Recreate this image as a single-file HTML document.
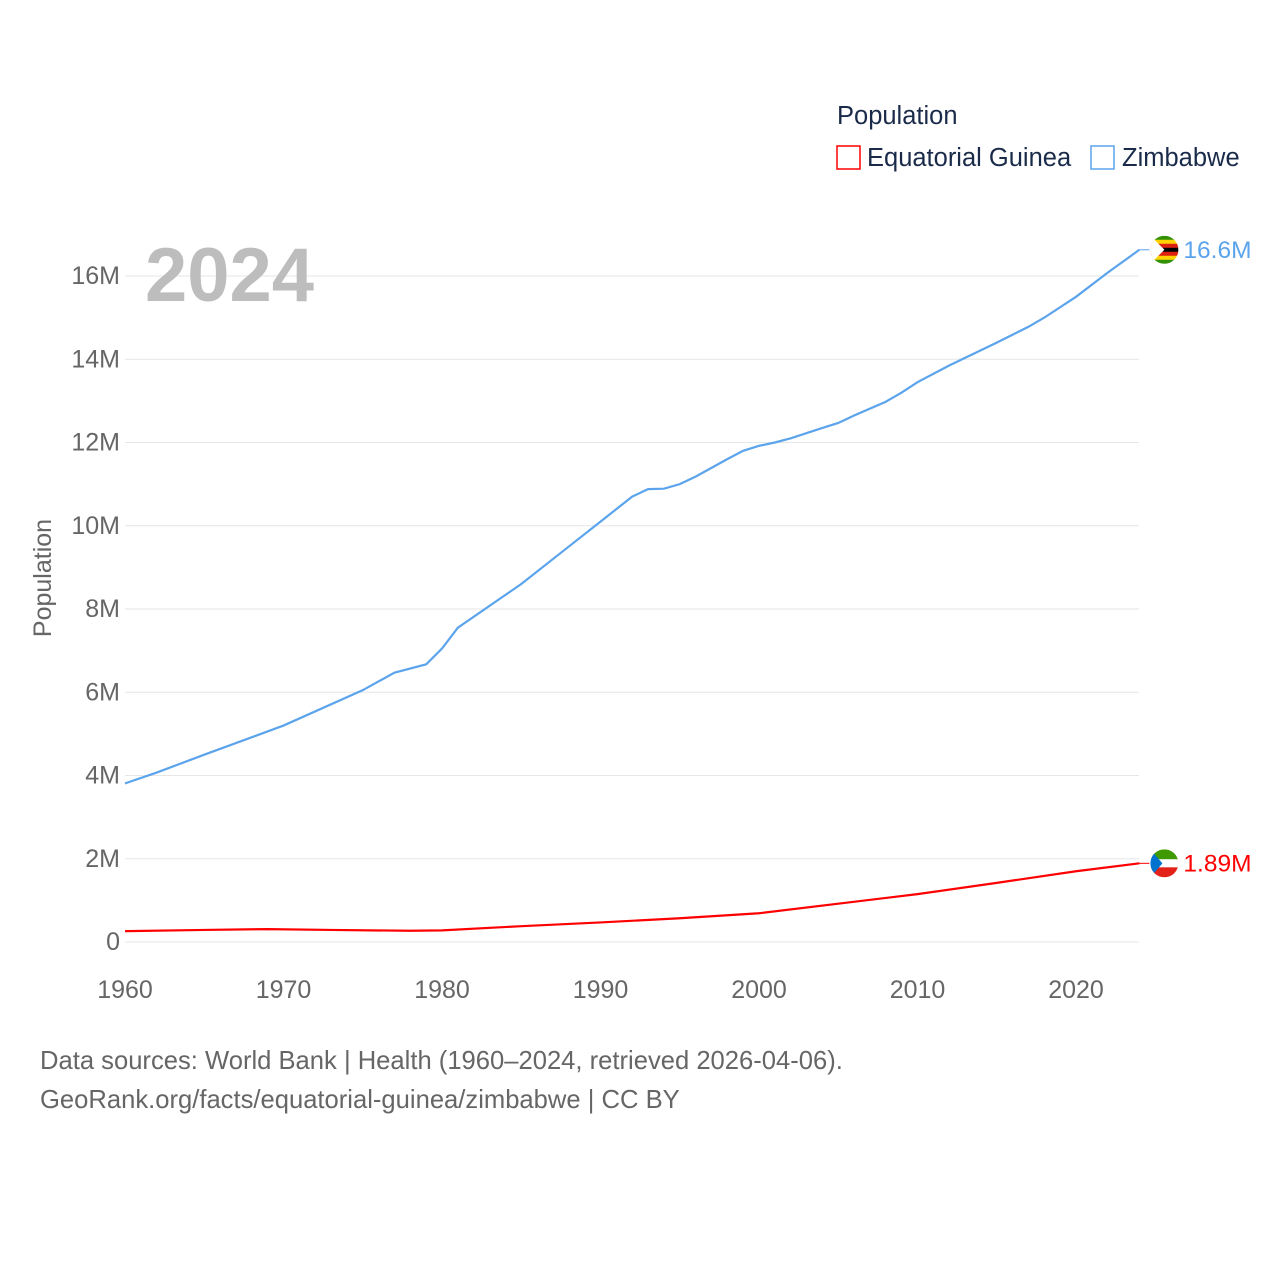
<!DOCTYPE html>
<html><head><meta charset="utf-8"><style>
body{margin:0;background:#fff;font-family:"Liberation Sans",sans-serif}
svg text{font-family:"Liberation Sans",sans-serif}
</style></head><body>
<svg width="1280" height="1280" viewBox="0 0 1280 1280">
<g id="grid"></g>
<g id="yticks"></g>
<g id="xticks"></g>
<text x="145" y="301" font-size="76" font-weight="bold" fill="#bdbdbd">2024</text>
<text transform="translate(51,578) rotate(-90)" text-anchor="middle" font-size="25" fill="#666">Population</text>
<g id="series"></g>
<g>
<text x="837" y="124" font-size="25.5" fill="#1a2b4a">Population</text>
<g><rect x="837" y="146" width="23" height="23" fill="none" stroke="#ff0000" stroke-width="1.5"/><text x="867" y="166" font-size="25.5" fill="#1a2b4a">Equatorial Guinea</text></g>
<g><rect x="1091" y="146" width="23" height="23" fill="none" stroke="#5ba4ec" stroke-width="1.5"/><text x="1122" y="166" font-size="25.5" fill="#1a2b4a">Zimbabwe</text></g>
</g>
<text x="40" y="1069" font-size="25.6" fill="#666">Data sources: World Bank | Health (1960–2024, retrieved 2026-04-06).</text>
<text x="40" y="1108" font-size="25.6" fill="#666">GeoRank.org/facts/equatorial-guinea/zimbabwe | CC BY</text>
</svg>
<script>
const yTicks=[0,2,4,6,8,10,12,14,16];
const xTicks=[1960,1970,1980,1990,2000,2010,2020];
const zwYears=[1960,1962,1965,1970,1975,1977,1979,1980,1981,1985,1988,1990,1992,1993,1994,1995,1996,1998,1999,2000,2001,2002,2004,2005,2006,2008,2009,2010,2012,2015,2017,2018,2020,2022,2024];
const zwValues=[3.81,4.07,4.5,5.2,6.05,6.47,6.67,7.05,7.55,8.6,9.5,10.1,10.7,10.88,10.89,11.0,11.18,11.6,11.8,11.92,12.0,12.1,12.35,12.47,12.65,12.98,13.2,13.45,13.85,14.4,14.78,15.0,15.5,16.08,16.63];
const gqYears=[1960,1965,1969,1973,1978,1980,1985,1990,1995,2000,2005,2010,2015,2020,2024];
const gqValues=[0.26,0.29,0.31,0.29,0.27,0.28,0.38,0.47,0.57,0.69,0.92,1.15,1.42,1.70,1.89];
const X=y=>125+(y-1960)*(1076-125)/60;
const Y=v=>942-v*(942-276)/16;
const NS="http://www.w3.org/2000/svg";
function mk(t,a,p){const e=document.createElementNS(NS,t);for(const k in a)e.setAttribute(k,a[k]);p.appendChild(e);return e;}
const grid=document.getElementById('grid'),yt=document.getElementById('yticks'),xt=document.getElementById('xticks'),sr=document.getElementById('series');
yTicks.forEach(v=>{
 const l=mk('line',{x1:125,x2:1139,y1:Y(v),y2:Y(v),stroke:'#e6e6e6','stroke-width':1},grid);
 
 
 const t=mk('text',{x:120,y:Y(v)+8,'text-anchor':'end','font-size':25,fill:'#666'},yt);
 t.textContent=v===0?'0':v+'M';
 
 
});
xTicks.forEach(v=>{
 const t=mk('text',{x:X(v),y:998,'text-anchor':'middle','font-size':25,fill:'#666'},xt);
 t.textContent=v;
 
 
});
function line(ys,vs,c,name){
 const p=mk('path',{d:ys.map((y,i)=>(i?'L':'M')+X(y)+','+Y(vs[i])).join(''),fill:'none',stroke:c,'stroke-width':2.2},sr);
 
 
}
line(zwYears,zwValues,'#5ba4ec','zimbabwe-line');
line(gqYears,gqValues,'#ff0000','equatorial-guinea-line');
function endLabel(ys,vs,c,txt,name,flag){
 const x=X(ys[ys.length-1]),y=Y(vs[vs.length-1]);
 mk('line',{x1:x,x2:x+10,y1:y,y2:y,stroke:c,'stroke-width':1},sr);
 const g=mk('g',{},sr);
 
 
 const cx=x+25;
 if(flag==='zw'){
  ['#319208','#ffd200','#de2010','#000','#de2010','#ffd200','#319208'].forEach((col,i)=>mk('rect',{x:cx-14,y:y-14+i*4,width:28,height:4.2,fill:col},g));
  mk('path',{d:`M${cx-14},${y-14}L${cx},${y}L${cx-14},${y+14}Z`,fill:'#fff'},g);
 }else{
  mk('rect',{x:cx-14,y:y-14,width:28,height:10,fill:'#3e9a00'},g);
  mk('rect',{x:cx-14,y:y-4,width:28,height:8,fill:'#fff'},g);
  mk('rect',{x:cx-14,y:y+4,width:28,height:10,fill:'#e32118'},g);
  mk('path',{d:`M${cx-14},${y-14}L${cx-2},${y}L${cx-14},${y+14}Z`,fill:'#0073ce'},g);
 }
 const cp=mk('clipPath',{id:'c'+flag},sr);mk('circle',{cx:cx,cy:y,r:14},cp);
 g.setAttribute('clip-path','url(#c'+flag+')');
 const t=mk('text',{x:cx+19,y:y+8,'font-size':24.5,fill:c},sr);
 t.textContent=txt;
 
 
}
endLabel(zwYears,zwValues,'#5ba4ec','16.6M','zimbabwe','zw');
endLabel(gqYears,gqValues,'#ff0000','1.89M','equatorial-guinea','gq');
</script>
</body></html>
